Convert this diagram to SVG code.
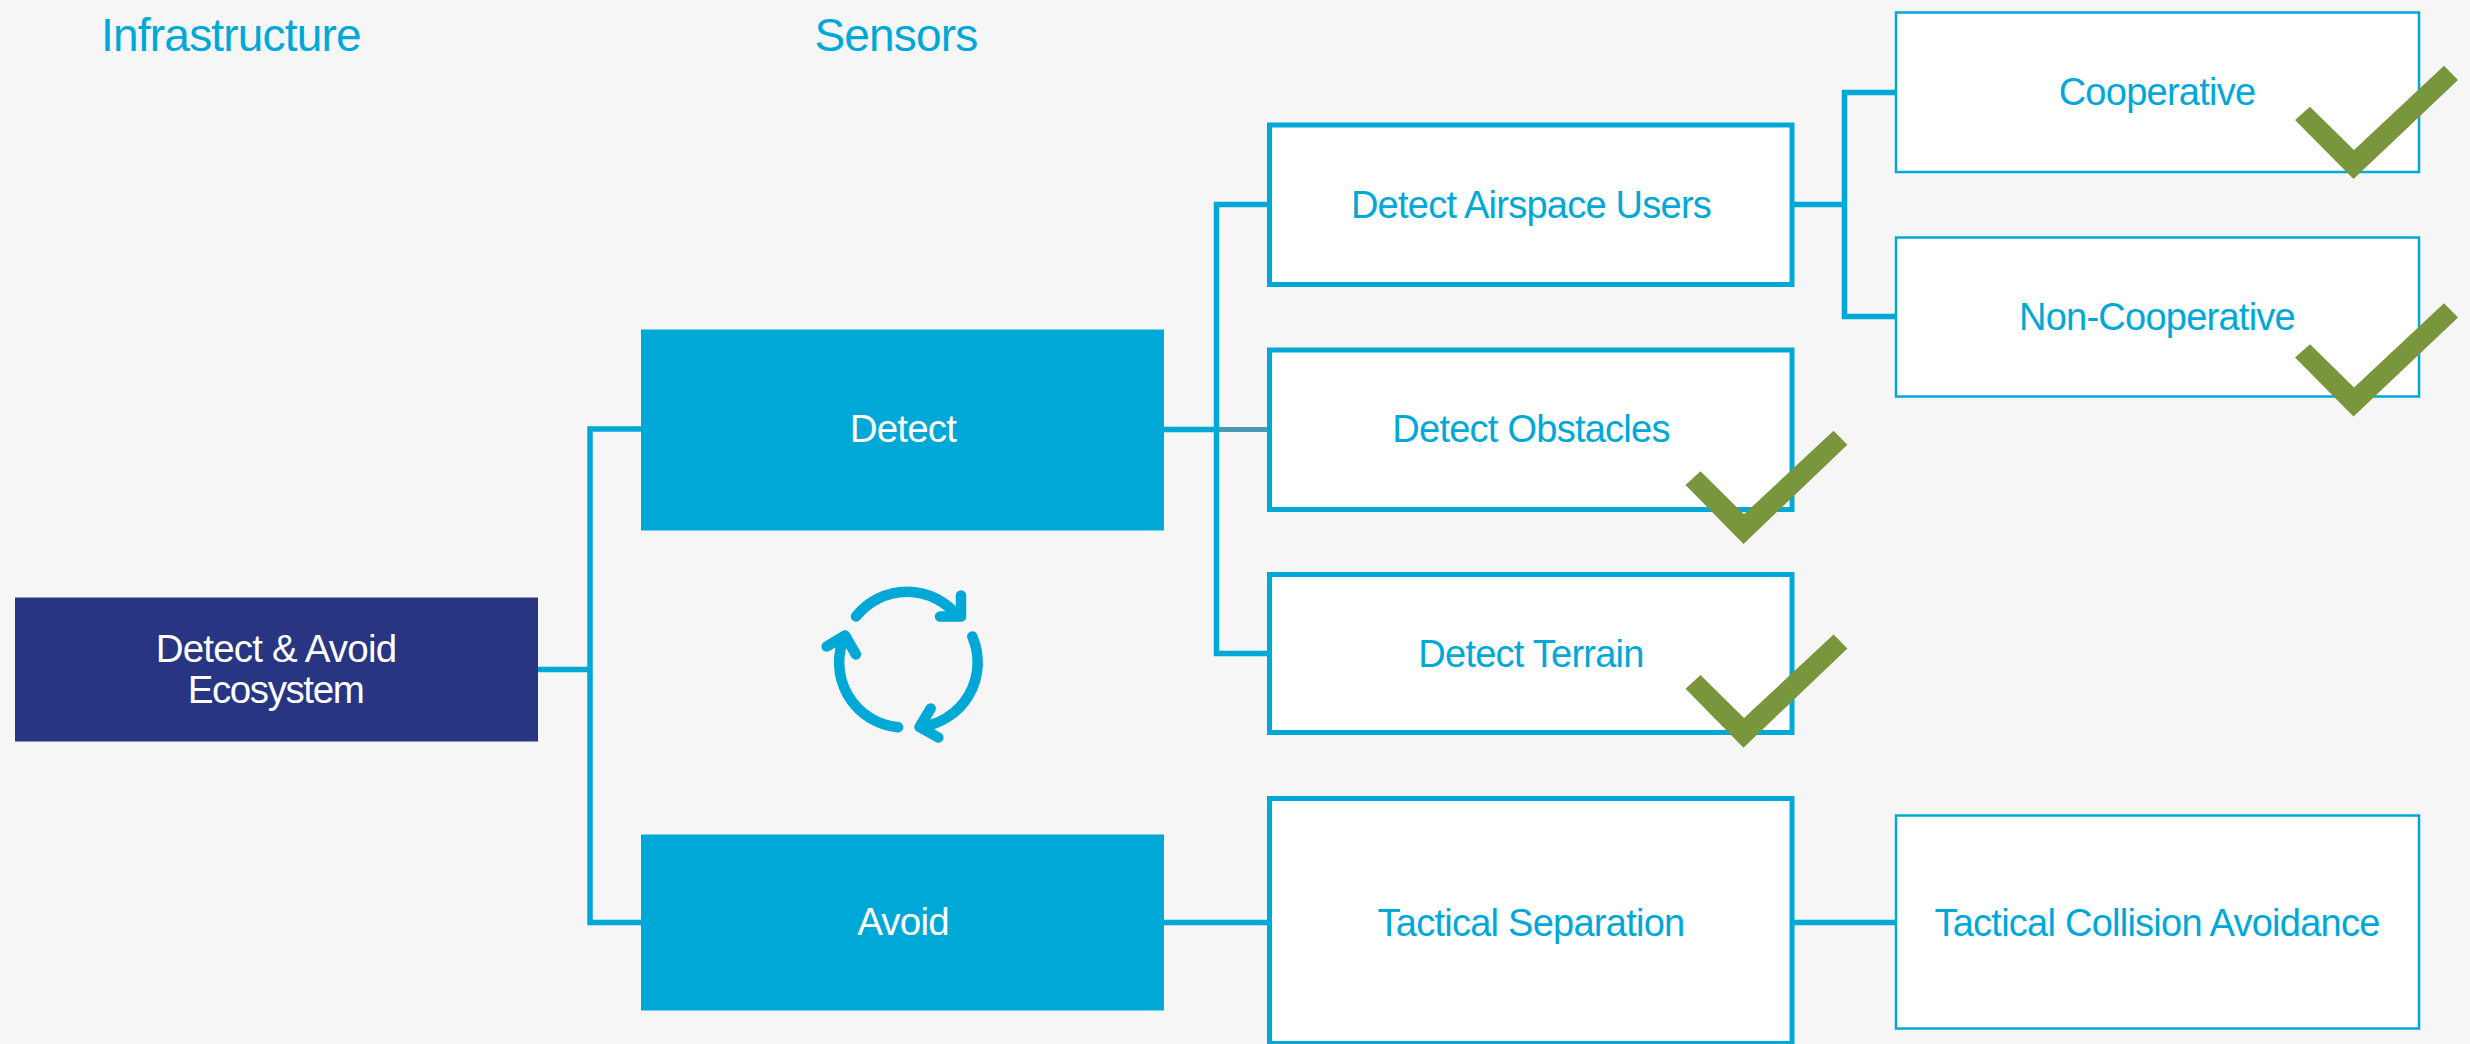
<svg xmlns="http://www.w3.org/2000/svg" width="2470" height="1044" viewBox="0 0 2470 1044">
<defs>
<path id="chk" d="M2444 65.7L2458 80L2353.5 179L2295 120L2310 106.7L2354 150Z"/>
<path id="chk2" d="M1833.6 430.7L1847.4 444.7L1743.5 544L1685.5 485L1700.5 471.3L1744 514.3Z"/>
</defs>
<style>
text{font-family:"Liberation Sans",Arial,sans-serif;text-anchor:middle}
.l{font-size:38px;fill:#00a8d8;letter-spacing:-.75px}
.w{font-size:38.5px;fill:#fff;letter-spacing:-.8px}
.h{font-size:46px;fill:#00a8d8;letter-spacing:-.8px}
.b{fill:#fff;stroke:#00a8d8;stroke-width:5}
.t{fill:#fff;stroke:#00a8d8;stroke-width:2.5}
.c{fill:none;stroke:#00a8d8;stroke-width:5.5}
.v{fill:none;stroke:#00a8d8;stroke-width:10.5;stroke-linecap:round;stroke-linejoin:round}
.g{fill:#7a963c}
</style>
<rect width="2470" height="1044" fill="#f6f6f6"/>
<g id="connectors">
<path class="c" d="M538 669.5H590M643 429H590V922.5H643"/>
<path class="c" d="M1164 429.5H1216.5M1268 204.5H1216.5V653.5H1268"/>
<path d="M1219 429.5H1268" fill="none" stroke="#4a9ab5" stroke-width="5"/>
<path class="c" d="M1792 204.5H1844.5M1896 92.5H1844.5V316.5H1896"/>
<path class="c" d="M1164 922.5H1268M1792 922.5H1896"/>
</g>
<g id="hdr-infrastructure"><text class="h" x="231" y="51">Infrastructure</text></g>
<g id="hdr-sensors"><text class="h" x="896" y="51">Sensors</text></g>
<g id="node-ecosystem"><rect x="15" y="597.5" width="523" height="144" fill="#283583"/>
<text class="w" x="276" y="662">Detect &amp; Avoid</text><text class="w" x="275.5" y="703" style="letter-spacing:-1.4px">Ecosystem</text></g>
<g id="node-detect"><rect x="641" y="329.5" width="523" height="201" fill="#00a8d8"/><text class="w" x="903" y="442">Detect</text></g>
<g id="node-avoid"><rect x="641" y="834.5" width="523" height="176" fill="#00a8d8"/><text class="w" x="903" y="935">Avoid</text></g>
<g id="icon-cycle">
<path class="v" d="M856 616.5A65 65 0 0 1 958 616.5M961 595.5V616.5H940"/>
<path class="v" d="M972.3 636.5A65 65 0 0 1 919.5 727M930.7 708.5L919.5 727L938.3 737.5"/>
<path class="v" d="M898 727.2A65 65 0 0 1 845 635.5M826.7 646.5L845 635.5L856 654.5"/>
</g>
<g id="node-airspace"><rect class="b" x="1269.5" y="125" width="522.5" height="159.5"/><text class="l" x="1531" y="218">Detect Airspace Users</text></g>
<g id="node-obstacles"><rect class="b" x="1269.5" y="350" width="522.5" height="159.5"/><text class="l" x="1531" y="442">Detect Obstacles</text></g>
<g id="node-terrain"><rect class="b" x="1269.5" y="574.5" width="522.5" height="158"/><text class="l" x="1531" y="667">Detect Terrain</text></g>
<g id="node-separation"><rect class="b" x="1269.5" y="798.5" width="522.5" height="245"/><text class="l" x="1531" y="936">Tactical Separation</text></g>
<g id="node-cooperative"><rect class="t" x="1896" y="12.5" width="523" height="159.5"/><text class="l" x="2157" y="105">Cooperative</text></g>
<g id="node-noncooperative"><rect class="t" x="1896" y="237.5" width="523" height="159"/><text class="l" x="2157" y="330">Non-Cooperative</text></g>
<g id="node-collision"><rect class="t" x="1896" y="815.5" width="523" height="213"/><text class="l" x="2157" y="936">Tactical Collision Avoidance</text></g>
<g id="checks">
<use href="#chk" class="g"/>
<use href="#chk" class="g" y="237.5"/>
<use href="#chk2" class="g"/>
<use href="#chk2" class="g" y="203.7"/>
</g>
</svg>
